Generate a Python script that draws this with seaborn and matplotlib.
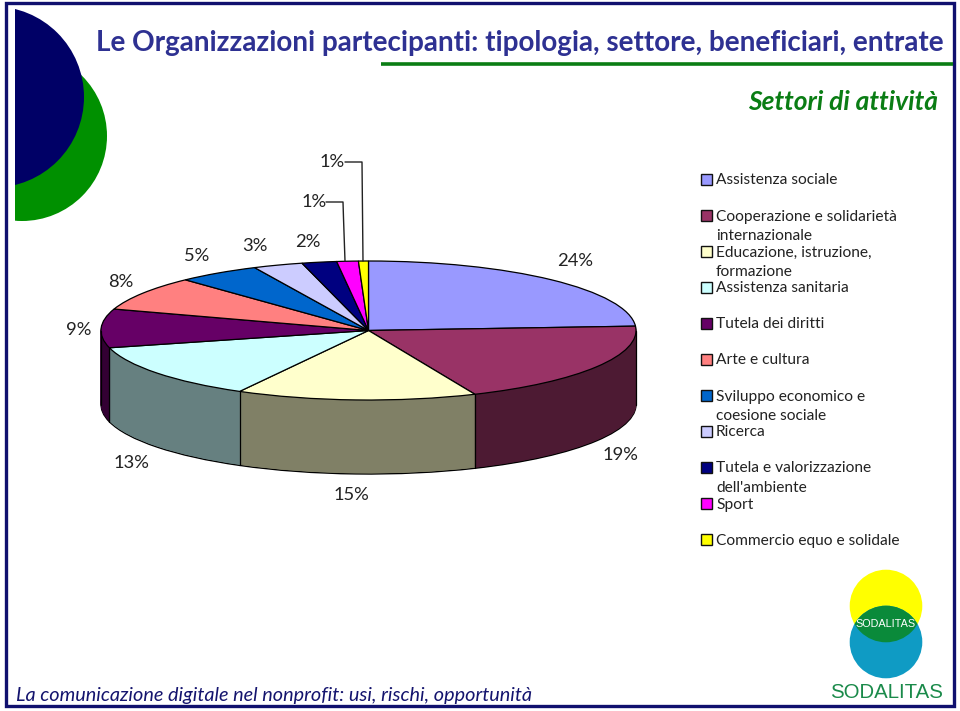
import numpy as np
import matplotlib
matplotlib.use("Agg")
import matplotlib.pyplot as plt
from matplotlib.patches import Circle, Rectangle
import seaborn as sns

categories = ["Assistenza sociale", "Cooperazione e solidarietà\ninternazionale",
              "Educazione, istruzione,\nformazione", "Assistenza sanitaria",
              "Tutela dei diritti", "Arte e cultura",
              "Sviluppo economico e\ncoesione sociale", "Ricerca",
              "Tutela e valorizzazione\ndell'ambiente", "Sport",
              "Commercio equo e solidale"]
shares = [24, 19.49, 14.51, 13, 9, 8, 5, 3, 2.1, 1.3, 0.6]
slice_colors = ["#9999ff", "#993366", "#ffffcc", "#ccffff", "#660066", "#ff8080",
                "#0066cc", "#ccccff", "#000080", "#ff00ff", "#ffff00"]
title = "Le Organizzazioni partecipanti: tipologia, settore, beneficiari, entrate"
subtitle = "Settori di attività"
footer = "La comunicazione digitale nel nonprofit: usi, rischi, opportunità"

sns.set_theme(style="white")
plt.rcParams["font.family"] = ["Lato", "DejaVu Sans"]
palette = sns.color_palette(slice_colors)
side_palette = [tuple(c * 0.5 for c in col) for col in palette]

W, H = 960, 711
fig = plt.figure(figsize=(W / 100, H / 100), dpi=100, facecolor="white")

# ---- pie axes: a flattened pie with a stacked rim
CX, CY, RX, RY, DEPTH = 368.5, 330.5, 267.5, 69.5, 74
PAD = 8
left = (CX - RX - PAD) / W
right = (CX + RX + PAD) / W
top_px = CY - RY - PAD
bot_px = CY + RY + DEPTH + PAD
pie_ax = fig.add_axes([left, 1 - bot_px / H, right - left, (bot_px - top_px) / H], zorder=1)
for k in np.arange(DEPTH, 0, -1):
    wedges, _ = pie_ax.pie(shares, colors=side_palette, startangle=90, counterclock=False,
                           center=(0, -k / RY))
    for w in wedges:
        if k == DEPTH:
            w.set_edgecolor("black")
            w.set_linewidth(1.0)
        else:
            w.set_edgecolor(w.get_facecolor())
            w.set_linewidth(0.6)
pie_ax.pie(shares, colors=palette, startangle=90, counterclock=False,
           center=(0, 0), wedgeprops={"linewidth": 0.9, "edgecolor": "black"})
pie_ax.set_aspect("auto")
pie_ax.set_xlim(-1 - PAD / RX, 1 + PAD / RX)
pie_ax.set_ylim(-1 - (DEPTH + PAD) / RY, 1 + PAD / RY)

# rim separators and silhouette
boundaries = np.radians(np.cumsum(shares) / np.sum(shares) * 360)
for th in boundaries:
    if np.cos(th) < 0:
        x, y = np.sin(th), np.cos(th)
        pie_ax.plot([x, x], [y, y - DEPTH / RY], color="black", lw=0.9, zorder=5)
for x in (-1, 1):
    pie_ax.plot([x, x], [0, -DEPTH / RY], color="black", lw=0.9, zorder=5)

# ---- overlay in pixel units
ax = fig.add_axes([0, 0, 1, 1], zorder=2)
ax.set_xlim(0, W)
ax.set_ylim(H, 0)
ax.axis("off")
ax.patch.set_alpha(0)

NAVY = "#000066"
GREEN = "#0a7d14"
clip = Rectangle((15, 0), W, H, transform=ax.transData)
green_c = Circle((22, 136), 85, color="#009000", lw=0, zorder=1)
navy_c = Circle((-6.6, 97), 90.6, color=NAVY, lw=0, zorder=2)
for c in (green_c, navy_c):
    ax.add_patch(c)
    c.set_clip_path(clip)

ax.add_patch(Rectangle((5.5, 3), 948.5, 703, fill=False, ec="#10106e", lw=2.4, zorder=3))
ax.plot([381, 953], [64, 64], color=GREEN, lw=2.6, solid_capstyle="butt", zorder=3)

ax.text(96, 51, title, color="#2e3192", fontsize=20.1, fontweight="bold", va="baseline", ha="left")
ax.text(938, 110, subtitle, color=GREEN, fontsize=19.0, fontweight="bold", fontstyle="italic",
        va="baseline", ha="right")
ax.text(16, 701, footer, color="#14146e", fontsize=14.3, fontstyle="italic", va="baseline", ha="left")

# percentage labels and leaders
label_pos = [(575, 261), (620, 455), (351, 495), (131, 463), (79, 330), (121, 282),
             (197, 256), (255, 246), (308, 242), (314, 202), (332, 162)]
for v, (x, y) in zip(shares, label_pos):
    ax.text(x, y, f"{max(v, 1):.0f}%", fontsize=13.2, color="#222222", ha="center", va="center")
ax.plot([326, 343, 343.5, 345], [202, 202, 218, 261], color="#222222", lw=1.0)
ax.plot([345, 362, 362.5, 363], [162, 162, 212, 261], color="#222222", lw=1.0)

# legend
for i, (name, col) in enumerate(zip(categories, palette)):
    yc = 179.5 + 36 * i
    ax.add_patch(Rectangle((701, yc - 5.5), 10.5, 10.5, fc=col, ec="#111111", lw=1.0))
    for j, line in enumerate(name.split("\n")):
        ax.text(716, yc + 5 + 19.7 * j, line, fontsize=11.2, color="#222222",
                va="baseline", ha="left")

# logo
yel = Circle((886, 606), 36.3, color="#ffff00", lw=0, zorder=1)
teal = Circle((886, 642), 36.3, color="#0f9bc4", lw=0, zorder=1)
lens = Circle((886, 606), 36.3, color="#0a8a3a", lw=0, zorder=2)
ax.add_patch(yel); ax.add_patch(teal); ax.add_patch(lens)
lens.set_clip_path(Circle((886, 642), 36.3, transform=ax.transData))
ax.text(886, 624, "SODALITAS", color="white", fontsize=7.8, family="Liberation Sans",
        ha="center", va="center", zorder=3)
ax.text(886.5, 692, "SODALITAS", color="#1a8a4a", fontsize=14.7, family="Liberation Sans",
        ha="center", va="center", zorder=3)

fig.savefig("out.png", dpi=100, facecolor="white")
